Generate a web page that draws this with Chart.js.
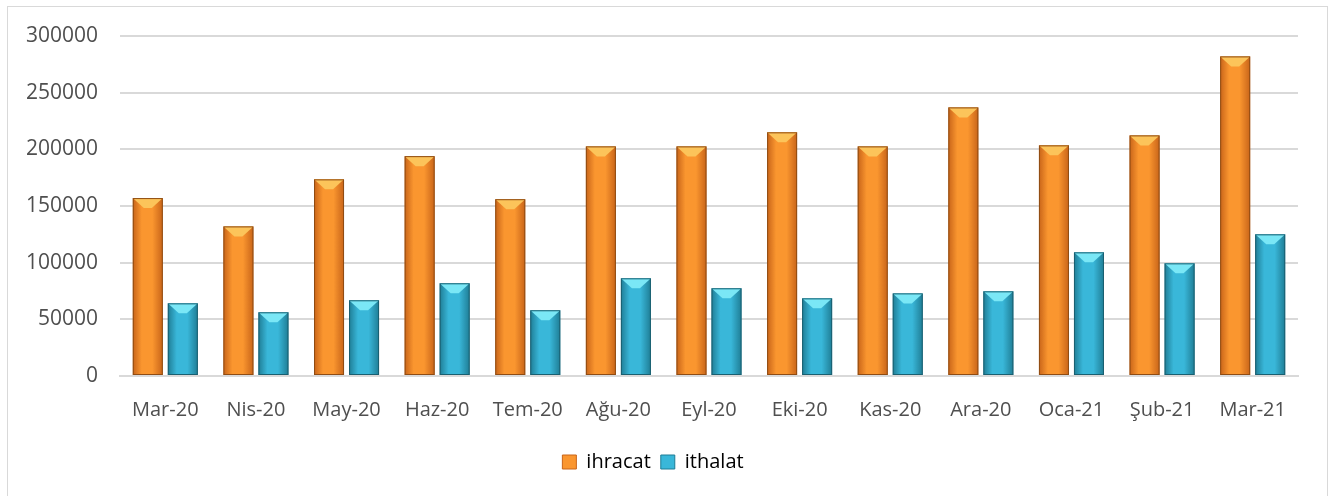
<!DOCTYPE html>
<html>
<head>
<meta charset="utf-8">
<script src="https://cdn.jsdelivr.net/npm/chart.js@4.4.1/dist/chart.umd.min.js"></script>
<style>
    body { margin: 0; background: #fff; }
    .frame { position: absolute; left: 7px; top: 6px; width: 1319px; height: 500px; border: 1px solid #d9d9d9; }
    .frame canvas { display: block; }
</style>
</head>
<body>
<div class="frame"><canvas id="chart" width="1319" height="489"></canvas></div>
<script>
const aylar = ['Mar-20', 'Nis-20', 'May-20', 'Haz-20', 'Tem-20', 'Ağu-20', 'Eyl-20', 'Eki-20', 'Kas-20', 'Ara-20', 'Oca-21', 'Şub-21', 'Mar-21'];
const ihracat = [157000, 132000, 173500, 194000, 156000, 202600, 202600, 215000, 202600, 237000, 203500, 212300, 282000];
const ithalat = [64100, 56200, 66800, 81800, 58000, 86200, 77400, 68500, 72900, 74700, 109100, 99400, 125000];
const yTicks = [0, 50000, 100000, 150000, 200000, 250000, 300000];

// colours for the "3D" look: edge, middle, top bevel, outline
const palette = {
    ihracat: { edge: '#c86419', mid: '#fa962f', top: '#fcc45a', line: '#8f4c13' },
    ithalat: { edge: '#1f7d95', mid: '#39b7d9', top: '#7ae7f6', line: '#1a5f70' }
};

// horizontal shading + bevelled top, taken from each bar element's own geometry
const shade = {
    id: 'shade',
    beforeDatasetsDraw(chart) {
        const ctx = chart.ctx;
        chart.data.datasets.forEach((ds, i) => {
            const c = palette[ds.key];
            chart.getDatasetMeta(i).data.forEach(el => {
                const half = el.width / 2;
                const g = ctx.createLinearGradient(el.x - half, 0, el.x + half, 0);
                g.addColorStop(0, c.edge);
                g.addColorStop(0.3, c.mid);
                g.addColorStop(0.65, c.mid);
                g.addColorStop(1, c.edge);
                el.options.backgroundColor = g;
            });
        });
    },
    afterDatasetsDraw(chart) {
        const ctx = chart.ctx;
        chart.data.datasets.forEach((ds, i) => {
            const c = palette[ds.key];
            chart.getDatasetMeta(i).data.forEach(el => {
                const half = el.width / 2;
                const d = 10;
                ctx.save();
                ctx.fillStyle = c.top;
                ctx.beginPath();
                ctx.moveTo(el.x - half, el.y);
                ctx.lineTo(el.x + half, el.y);
                ctx.lineTo(el.x + 4, el.y + d);
                ctx.lineTo(el.x - 4, el.y + d);
                ctx.closePath();
                ctx.fill();
                ctx.strokeStyle = c.line;
                ctx.lineWidth = 1;
                ctx.strokeRect(el.x - half + 0.5, el.y + 0.5, el.width - 1, el.base - el.y - 1);
                ctx.restore();
            });
        });
    }
};

new Chart(document.getElementById('chart'), {
    type: 'bar',
    data: {
        labels: aylar,
        datasets: [
            // scriptable colour so every bar keeps its own options object
            { key: 'ihracat', label: 'ihracat', data: ihracat, backgroundColor: ctx => palette.ihracat.mid, borderWidth: 0 },
            { key: 'ithalat', label: 'ithalat', data: ithalat, backgroundColor: ctx => palette.ithalat.mid, borderWidth: 0 }
        ]
    },
    options: {
        responsive: false,
        animation: false,
        categoryPercentage: 0.773,
        barPercentage: 0.857,
        layout: { padding: { left: 0, right: 29, top: 29, bottom: 14 } },
        scales: {
            x: {
                grid: { display: false },
                border: { color: '#d9d9d9', width: 2 },
                ticks: { color: '#4f4f4f', font: { family: 'Open Sans', size: 20 }, padding: 14, maxRotation: 0, autoSkip: false },
                afterFit: scale => { scale.height = 66; scale.paddingLeft = 0; scale.paddingRight = 0; }
            },
            y: {
                min: 0,
                max: 300000,
                afterBuildTicks: scale => { scale.ticks = yTicks.map(v => ({ value: v })); },
                grid: { color: '#d9d9d9', lineWidth: 2, drawTicks: false },
                border: { display: false },
                ticks: { color: '#4f4f4f', font: { family: 'Open Sans', size: 21 }, padding: 22, callback: v => String(v) },
                afterFit: scale => { scale.width = 112; scale.paddingTop = 0; scale.paddingBottom = 0; }
            }
        },
        plugins: {
            tooltip: { enabled: false },
            legend: {
                position: 'bottom',
                labels: {
                    color: '#4f4f4f',
                    font: { family: 'Open Sans', size: 20 },
                    boxWidth: 14,
                    boxHeight: 14,
                    padding: 10,
                    generateLabels: chart => chart.data.datasets.map((ds, i) => ({
                        text: ds.label,
                        fillStyle: palette[ds.key].mid,
                        strokeStyle: palette[ds.key].edge,
                        lineWidth: 1,
                        datasetIndex: i
                    }))
                }
            }
        }
    },
    plugins: [shade]
});
</script>
</body>
</html>
